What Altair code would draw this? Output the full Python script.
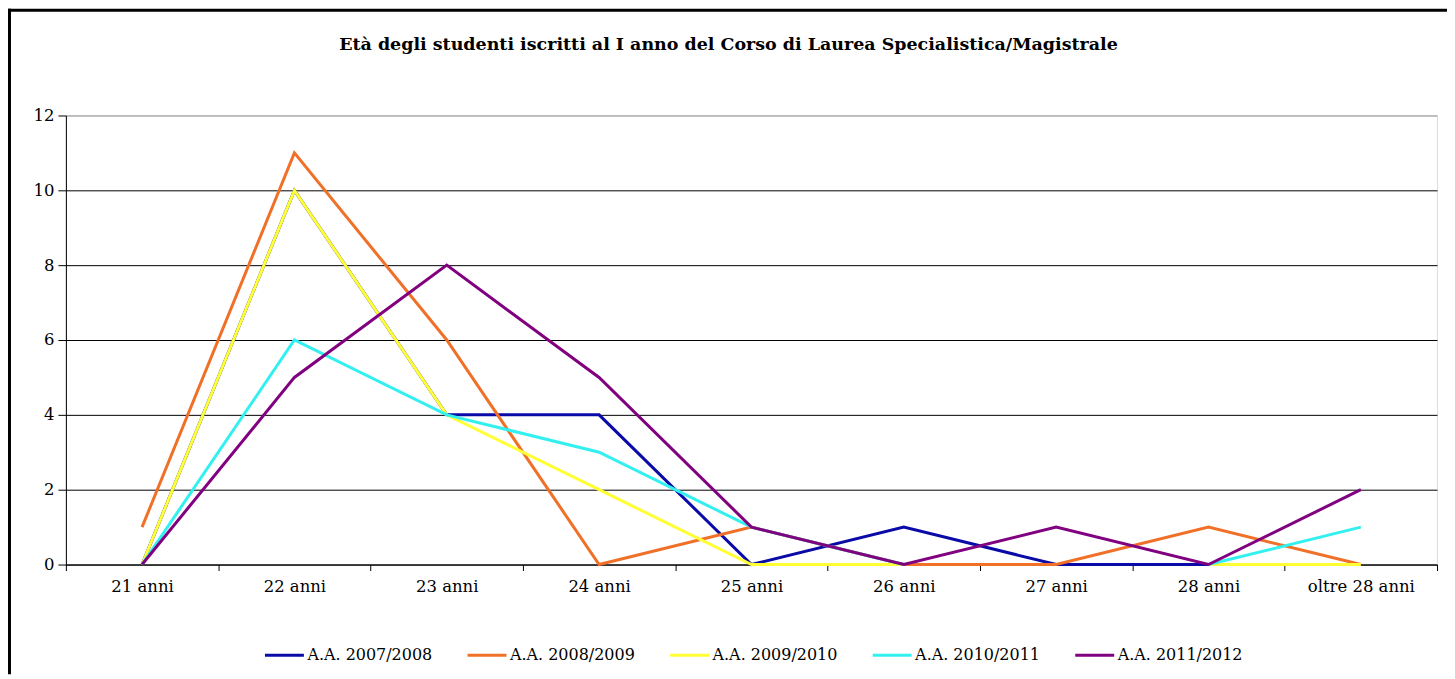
import altair as alt
import pandas as pd

categories = ["21 anni", "22 anni", "23 anni", "24 anni", "25 anni",
              "26 anni", "27 anni", "28 anni", "oltre 28 anni"]
series_names = ["A.A. 2007/2008", "A.A. 2008/2009", "A.A. 2009/2010",
                "A.A. 2010/2011", "A.A. 2011/2012"]
aa_2007_2008 = [0, 10, 4, 4, 0, 1, 0, 0, 0]
aa_2008_2009 = [1, 11, 6, 0, 1, 0, 0, 1, 0]
aa_2009_2010 = [0, 10, 4, 2, 0, 0, None, 0, 0]
aa_2010_2011 = [0, 6, 4, 3, 1, 0, None, 0, 1]
aa_2011_2012 = [0, 5, 8, 5, 1, 0, 1, 0, 2]
series_colors = ["#0A0AA8", "#F07028", "#FFFF33", "#33F0F0", "#800080"]
y_ticks = [0, 2, 4, 6, 8, 10, 12]
title_text = "Età degli studenti iscritti al I anno del Corso di Laurea Specialistica/Magistrale"

rows = []
for name, vals in zip(series_names, [aa_2007_2008, aa_2008_2009, aa_2009_2010,
                                     aa_2010_2011, aa_2011_2012]):
    for c, v in zip(categories, vals):
        rows.append({"eta": c, "serie": name, "n": v})
df = pd.DataFrame(rows)

FONT = "DejaVu Serif"
W, H = 1374, 450

lines = alt.Chart(df).mark_line(strokeWidth=3, invalid="break-paths-show-domains").encode(
    x=alt.X("eta:N", sort=categories,
            scale=alt.Scale(type="band", paddingInner=0, paddingOuter=0),
            axis=alt.Axis(title=None, labelAngle=0, tickBand="extent", tickSize=6,
                          tickColor="black", domainColor="black", labelPadding=8,
                          labelFont=FONT, labelFontSize=16.5, labelColor="black",
                          grid=False)),
    y=alt.Y("n:Q", scale=alt.Scale(domain=[0, 12], nice=False),
            axis=alt.Axis(title=None, values=y_ticks, tickSize=8, tickColor="black",
                          domainColor="black", labelPadding=4, labelFont=FONT,
                          labelFontSize=16.5, labelColor="black", grid=True,
                          gridColor=alt.condition("datum.value == 12", alt.value("#909090"), alt.value("black")),
                          gridWidth=1)),
    color=alt.Color("serie:N", sort=series_names,
                    scale=alt.Scale(domain=series_names, range=series_colors),
                    legend=alt.Legend(title=None, orient="none", legendX=198, legendY=520,
                                      direction="horizontal", columns=5,
                                      symbolType="stroke", symbolSize=1521,
                                      symbolStrokeWidth=3, labelOffset=2,
                                      columnPadding=28, labelFont=FONT,
                                      labelFontSize=16, labelColor="black")),
)

frame_df = pd.DataFrame({"k": [0]})
title_mark = alt.Chart(pd.DataFrame({"t": [title_text]})).mark_text(
    font=FONT, fontSize=17.5, fontWeight="bold", color="black",
    align="center", baseline="alphabetic").encode(
    text="t:N", x=alt.value(664), y=alt.value(-66))
top_rule = alt.Chart(frame_df).mark_rule(color="black", strokeWidth=3).encode(
    x=alt.value(-58), x2=alt.value(W + 10), y=alt.value(-105.5))
left_rule = alt.Chart(frame_df).mark_rule(color="black", strokeWidth=3).encode(
    x=alt.value(-56.5), y=alt.value(-107), y2=alt.value(H + 110))

chart = alt.layer(lines, title_mark, top_rule, left_rule).properties(
    width=W, height=H,
    autosize=alt.AutoSizeParams(type="none"),
    padding={"left": 58, "top": 107, "right": 10, "bottom": 110},
).configure_view(fill="#CCCCCC", stroke="#909090", strokeWidth=1.5
).configure(background="white")

chart.save("out.html", embed_options={"renderer": "svg", "actions": False})
